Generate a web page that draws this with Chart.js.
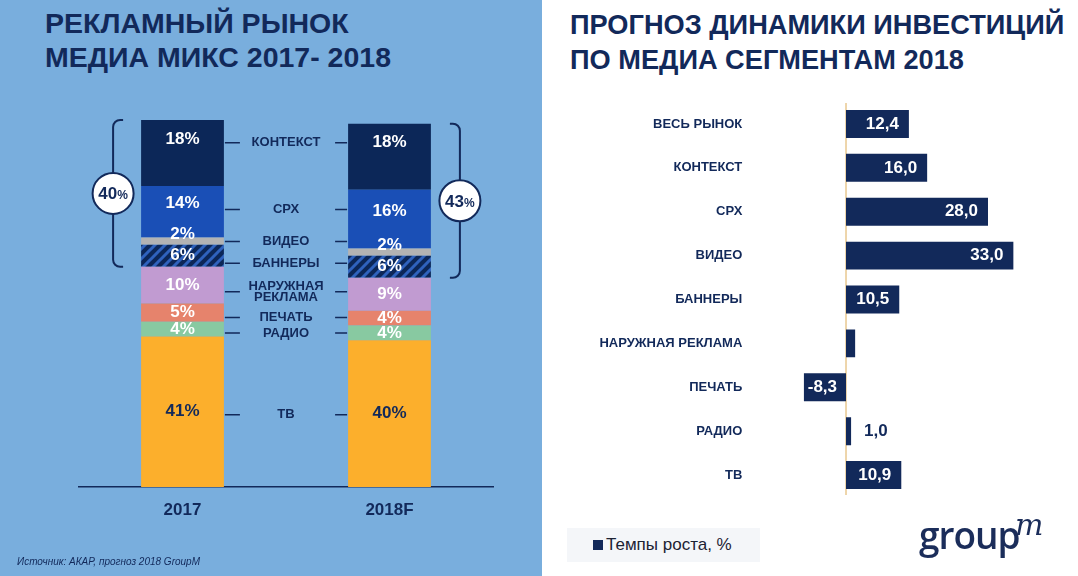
<!DOCTYPE html>
<html>
<head>
<meta charset="utf-8">
<script src="https://cdn.jsdelivr.net/npm/chart.js@4.4.0/dist/chart.umd.min.js"></script>
<style>
  body { margin:0; width:1078px; height:576px; position:relative; overflow:hidden; background:#fff;
         font-family:"Liberation Sans", Arial, sans-serif; color:#12295a; }
  #leftPanel { position:absolute; left:0; top:0; width:542px; height:576px; background:#79aedd; }
  .title { position:absolute; margin:0; font-weight:bold; white-space:nowrap; }
  #mixTitle { left:45px; top:6px; font-size:28.5px; line-height:34px; }
  #growthTitle { left:570px; top:7px; font-size:27.2px; line-height:35px; }
  #mixChart { position:absolute; left:0; top:0; }
  #growthChart { position:absolute; left:560px; top:90px; }
  #source { position:absolute; left:17px; top:556px; font-size:10px; font-style:italic; }
  #legend { position:absolute; left:567px; top:528px; width:193px; height:34px; background:#f4f6f9;
            display:flex; align-items:center; font-size:17px; color:#1c2233; }
  #legend span.box { display:inline-block; width:10px; height:10px; background:#12295a; margin:0 3px 0 26px; }
  #logo { position:absolute; left:919px; top:516px; font-size:37px; line-height:38px; color:#1b2d5a;
          font-family:"Open Sans", sans-serif; font-weight:600; letter-spacing:-1px; }
  #logo sup { position:absolute; left:96px; top:-10px; font-family:"DejaVu Serif", serif; font-style:italic;
              font-weight:normal; font-size:30px; }
</style>
</head>
<body>
<div id="leftPanel"></div>
<div class="title" id="mixTitle">РЕКЛАМНЫЙ РЫНОК<br>МЕДИА МИКС 2017- 2018</div>
<div class="title" id="growthTitle">ПРОГНОЗ ДИНАМИКИ ИНВЕСТИЦИЙ<br>ПО МЕДИА СЕГМЕНТАМ 2018</div>
<canvas id="mixChart" width="542" height="576"></canvas>
<canvas id="growthChart" width="518" height="420"></canvas>
<div id="source">Источник: АКАР, прогноз 2018 GroupM</div>
<div id="legend"><span class="box"></span>Темпы роста, %</div>
<div id="logo">group<sup>m</sup></div>

<script>
// ─── DATA ──────────────────────────────────────────────────────────────────────
const mixYears      = ["2017", "2018F"]
const shareContext  = [18, 18]
const shareCpx      = [14, 16]
const shareVideo    = [2, 2]
const shareBanners  = [6, 6]
const shareOutdoor  = [10, 9]
const sharePrint    = [5, 4]
const shareRadio    = [4, 4]
const shareTv       = [41, 40]
const digitalTotals = [40, 43]

const growthSegments  = ["ВЕСЬ РЫНОК", "КОНТЕКСТ", "СРХ", "ВИДЕО", "БАННЕРЫ",
                         "НАРУЖНАЯ РЕКЛАМА", "ПЕЧАТЬ", "РАДИО", "ТВ"]
const growthRates     = [12.4, 16.0, 28.0, 33.0, 10.5, 1.8, -8.3, 1.0, 10.9]
const growthUnlabeled = ["НАРУЖНАЯ РЕКЛАМА"]

// ─── STYLE ─────────────────────────────────────────────────────────────────────
const NAVY = "#12295a"
const FONT = '"Liberation Sans", Arial, sans-serif'
Chart.defaults.font.family = FONT
Chart.defaults.animation = false

function makeHatch() {
  const c = document.createElement("canvas")
  c.width = c.height = 10
  const g = c.getContext("2d")
  g.fillStyle = "#0c2758"
  g.fillRect(0, 0, 10, 10)
  g.strokeStyle = "#2f62bd"
  g.lineWidth = 3
  g.beginPath()
  g.moveTo(-5, 15); g.lineTo(15, -5)
  g.moveTo(-5, 5);  g.lineTo(5, -5)
  g.moveTo(5, 15);  g.lineTo(15, 5)
  g.stroke()
  return g.createPattern(c, "repeat")
}

// top → bottom order, as read in the picture
const mixSeries = [
  { label: "КОНТЕКСТ",         data: shareContext, color: "#0c2758", lift: -14 },
  { label: "СРХ",              data: shareCpx,     color: "#1a4fb6", lift: -8 },
  { label: "ВИДЕО",            data: shareVideo,   color: "#b3b3b3", lift: -7 },
  { label: "БАННЕРЫ",          data: shareBanners, color: makeHatch(), lift: 0 },
  { label: "НАРУЖНАЯ РЕКЛАМА", data: shareOutdoor, color: "#c19bd1", lift: 0 },
  { label: "ПЕЧАТЬ",           data: sharePrint,   color: "#e6836c", lift: 0 },
  { label: "РАДИО",            data: shareRadio,   color: "#88c9a1", lift: 0 },
  { label: "ТВ",               data: shareTv,      color: "#fcaf2c", lift: 0, text: NAVY },
]
const digitalCount = 4

// ─── MIX CHART PLUGIN (labels, dashes, brackets) ──────────────────────────────
const mixLabels = {
  id: "mixLabels",
  afterDatasetsDraw(chart) {
    const ctx = chart.ctx
    const metas = chart.data.datasets.map((ds, i) => chart.getDatasetMeta(i))
    ctx.save()
    ctx.textAlign = "center"
    ctx.textBaseline = "middle"

    // value labels, remember row heights
    const rows = []
    chart.data.datasets.forEach((ds, i) => {
      const ys = []
      metas[i].data.forEach((bar, j) => {
        const y = (bar.y + bar.base) / 2 + ds.lift
        ys.push(y)
        ctx.font = "bold 17px " + FONT
        ctx.fillStyle = ds.text || "#ffffff"
        ctx.fillText(ds.data[j] + "%", bar.x, y)
      })
      rows.push({ label: ds.label, y: ys.reduce((a, b) => a + b, 0) / ys.length + 2 })
    })

    // middle category names with dashes
    const b0 = metas[0].data[0], b1 = metas[0].data[1]
    const left0 = b0.x + b0.width / 2, right1 = b1.x - b1.width / 2
    const midX = (left0 + right1) / 2
    ctx.strokeStyle = NAVY
    ctx.lineWidth = 1.5
    ctx.fillStyle = NAVY
    ctx.font = "bold 13px " + FONT
    rows.forEach(r => {
      ctx.beginPath()
      ctx.moveTo(left0 + 1, r.y);  ctx.lineTo(left0 + 16, r.y)
      ctx.moveTo(right1 - 13, r.y); ctx.lineTo(right1 - 1, r.y)
      ctx.stroke()
      const lines = r.label.split(" ")
      lines.forEach((t, k) => {
        ctx.fillText(t, midX, r.y + (k - (lines.length - 1) / 2) * 11.5)
      })
    })

    // digital brackets
    const n = metas.length
    const topMeta = metas[n - 1], lowMeta = metas[n - digitalCount]
    chart.data.labels.forEach((lab, j) => {
      const top = topMeta.data[j].y
      const bottom = lowMeta.data[j].base
      const bar = topMeta.data[j]
      const dir = j === 0 ? 1 : -1
      const x = j === 0 ? bar.x - bar.width / 2 - 28 : bar.x + bar.width / 2 + 29
      const r = 7
      ctx.strokeStyle = NAVY
      ctx.lineWidth = 2
      ctx.beginPath()
      ctx.moveTo(x + dir * 10, top)
      ctx.arcTo(x, top, x, top + r, r)
      ctx.lineTo(x, bottom - r)
      ctx.arcTo(x, bottom, x + dir * 10, bottom, r)
      ctx.lineTo(x + dir * 10, bottom)
      ctx.stroke()

      const cy = (top + bottom) / 2
      ctx.beginPath()
      ctx.arc(x, cy, 20.5, 0, Math.PI * 2)
      ctx.fillStyle = "#ffffff"
      ctx.fill()
      ctx.stroke()

      const big = String(digitalTotals[j])
      ctx.font = "bold 17px " + FONT
      const wBig = ctx.measureText(big).width
      ctx.font = "bold 12px " + FONT
      const wPct = ctx.measureText("%").width
      const sx = x - (wBig + wPct) / 2
      ctx.fillStyle = NAVY
      ctx.textAlign = "left"
      ctx.textBaseline = "alphabetic"
      ctx.font = "bold 17px " + FONT
      ctx.fillText(big, sx, cy + 6)
      ctx.font = "bold 12px " + FONT
      ctx.fillText("%", sx + wBig, cy + 6)
      ctx.textAlign = "center"
      ctx.textBaseline = "middle"
    })
    ctx.restore()
  }
}

new Chart(document.getElementById("mixChart"), {
  type: "bar",
  data: {
    labels: mixYears,
    datasets: mixSeries.slice().reverse().map(s => ({
      label: s.label,
      data: s.data,
      backgroundColor: s.color,
      borderWidth: 0,
      lift: s.lift,
      text: s.text,
      barPercentage: 1,
      categoryPercentage: 0.4,
    })),
  },
  options: {
    responsive: false,
    layout: { padding: { left: 79, right: 49, top: 120, bottom: 42.6 } },
    plugins: { legend: { display: false }, tooltip: { enabled: false } },
    scales: {
      x: {
        stacked: true,
        grid: { display: false, drawTicks: false },
        border: { display: true, color: NAVY, width: 1.5 },
        ticks: { color: NAVY, font: { size: 17, weight: "bold" }, padding: 13 },
      },
      y: { stacked: true, display: false, min: 0, max: 100 },
    },
  },
  plugins: [mixLabels],
})

// ─── GROWTH CHART ─────────────────────────────────────────────────────────────
const growthLabels = {
  id: "growthLabels",
  beforeDatasetsDraw(chart) {
    const { ctx, chartArea, scales } = chart
    const x0 = scales.x.getPixelForValue(0)
    ctx.save()
    ctx.strokeStyle = "#e9c88f"
    ctx.lineWidth = 1.5
    ctx.beginPath()
    ctx.moveTo(x0, chartArea.top + 1)
    ctx.lineTo(x0, chartArea.bottom - 2)
    ctx.stroke()
    ctx.restore()
  },
  afterDatasetsDraw(chart) {
    const ctx = chart.ctx
    const meta = chart.getDatasetMeta(0)
    ctx.save()
    ctx.font = "bold 17px " + FONT
    ctx.textBaseline = "middle"
    meta.data.forEach((bar, i) => {
      if (growthUnlabeled.includes(growthSegments[i])) return
      const v = growthRates[i]
      const txt = v.toFixed(1).replace(".", ",")
      const w = ctx.measureText(txt).width
      const len = Math.abs(bar.x - bar.base)
      if (v < 0) {
        ctx.fillStyle = "#ffffff"; ctx.textAlign = "right"
        ctx.fillText(txt, bar.base - 9, bar.y)
      } else if (len >= w + 20) {
        ctx.fillStyle = "#ffffff"; ctx.textAlign = "right"
        ctx.fillText(txt, bar.x - 10, bar.y)
      } else {
        ctx.fillStyle = NAVY; ctx.textAlign = "left"
        ctx.fillText(txt, bar.x + 13, bar.y)
      }
    })
    ctx.restore()
  }
}

new Chart(document.getElementById("growthChart"), {
  type: "bar",
  data: {
    labels: growthSegments,
    datasets: [{
      label: "Темпы роста, %",
      data: growthRates,
      backgroundColor: NAVY,
      borderWidth: 0,
      barPercentage: 1,
      categoryPercentage: 28 / 44,
    }],
  },
  options: {
    responsive: false,
    indexAxis: "y",
    layout: { padding: { left: 0, right: 19, top: 12, bottom: 13 } },
    plugins: { legend: { display: false }, tooltip: { enabled: false } },
    scales: {
      x: { display: false, min: -10, max: 42 },
      y: {
        grid: { display: false, drawTicks: false },
        border: { display: false },
        ticks: { color: NAVY, font: { size: 13, weight: "bold" }, padding: 53 },
        afterFit(scale) {
          scale.width = 235.3
          scale.paddingTop = 0
          scale.paddingBottom = 0
        },
      },
    },
  },
  plugins: [growthLabels],
})
</script>
</body>
</html>
